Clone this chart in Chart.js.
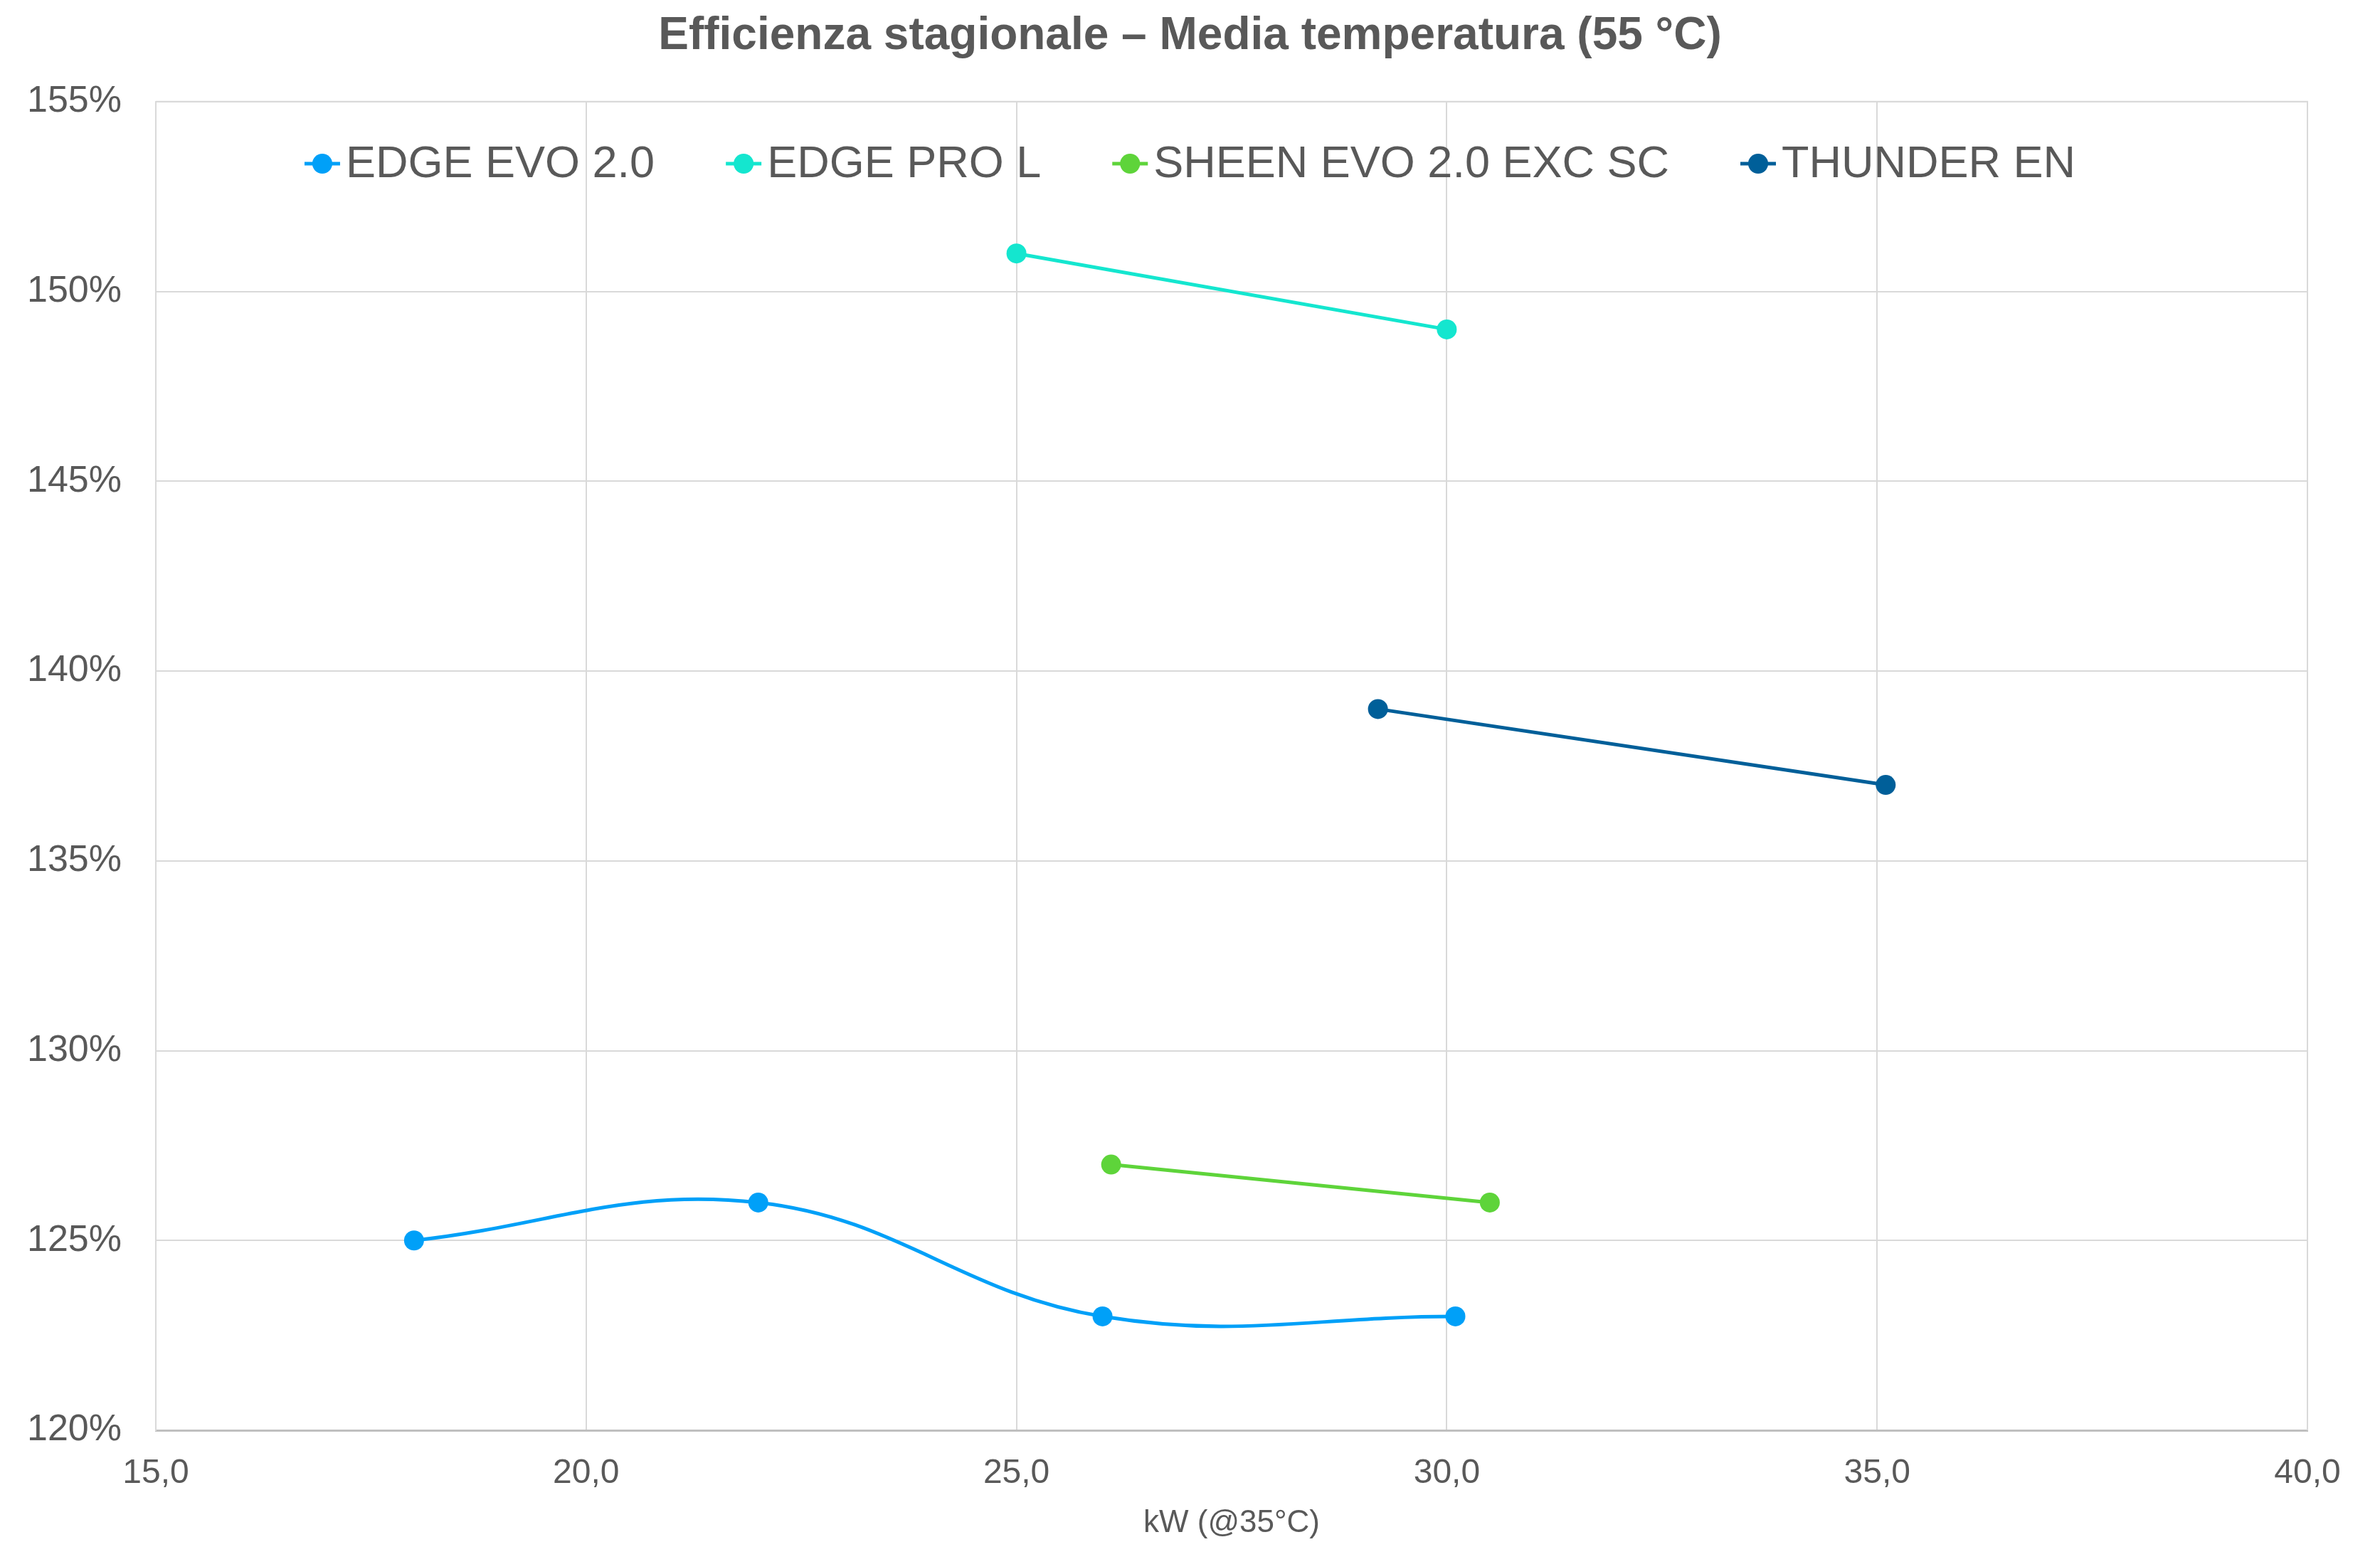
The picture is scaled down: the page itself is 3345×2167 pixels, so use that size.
<!DOCTYPE html>
<html>
<head>
<meta charset="utf-8">
<script src="https://cdn.jsdelivr.net/npm/chart.js@4.4.1/dist/chart.umd.min.js"></script>
<style>
  html, body { margin: 0; padding: 0; background: #fff; }
  #wrap { width: 3345px; height: 2167px; }
</style>
</head>
<body>
<div id="wrap"><canvas id="chart"></canvas></div>
<script>
// Efficienza stagionale – Media temperatura (55 °C)

const TITLE = 'Efficienza stagionale – Media temperatura (55 °C)';
const X_TITLE = 'kW (@35°C)';
const TEXT = '#595959';
const FONT = '"Liberation Sans", Arial, sans-serif';

// kW values / seasonal efficiency (%) per series
const edgeEvoX = [18.0, 22.0, 26.0, 30.1];
const edgeEvoY = [125, 126, 123, 123];
const edgeProX = [25.0, 30.0];
const edgeProY = [151, 149];
const sheenX = [26.1, 30.5];
const sheenY = [127, 126];
const thunderX = [29.2, 35.1];
const thunderY = [139, 137];

const seriesNames = ['EDGE EVO 2.0', 'EDGE PRO L', 'SHEEN EVO 2.0 EXC SC', 'THUNDER EN'];
const seriesColors = ['#00A0F8', '#14E6CF', '#5ED43A', '#005F99'];

const X_MIN = 15, X_MAX = 40, X_STEP = 5;
const Y_MIN = 120, Y_MAX = 155, Y_STEP = 5;

function pts(xs, ys) {
  return xs.map((x, i) => ({ x, y: ys[i] }));
}

function makeSet(i, xs, ys, tension) {
  return {
    label: seriesNames[i],
    data: pts(xs, ys),
    showLine: true,
    borderColor: seriesColors[i],
    backgroundColor: seriesColors[i],
    borderWidth: 5,
    pointRadius: 14,
    pointHoverRadius: 14,
    pointBorderWidth: 0,
    tension: tension || 0
  };
}

// legend drawn inside the plot area, centred on the canvas
const innerLegend = {
  id: 'innerLegend',
  afterDraw(chart) {
    const ctx = chart.ctx;
    const lineLen = 50, textGap = 8, itemGap = 100;
    const y = 230;
    ctx.save();
    ctx.font = '63px ' + FONT;
    const items = chart.data.datasets.map(ds => ({
      label: ds.label, color: ds.borderColor, w: ctx.measureText(ds.label).width
    }));
    let total = 0;
    items.forEach((it, i) => { total += lineLen + textGap + it.w + (i < items.length - 1 ? itemGap : 0); });
    let x = chart.width / 2 - total / 2;
    items.forEach(it => {
      ctx.strokeStyle = it.color;
      ctx.lineWidth = 5;
      ctx.beginPath();
      ctx.moveTo(x, y);
      ctx.lineTo(x + lineLen, y);
      ctx.stroke();
      ctx.fillStyle = it.color;
      ctx.beginPath();
      ctx.arc(x + lineLen / 2, y, 14, 0, Math.PI * 2);
      ctx.fill();
      ctx.fillStyle = TEXT;
      ctx.textBaseline = 'middle';
      ctx.textAlign = 'left';
      ctx.fillText(it.label, x + lineLen + textGap, y + 2);
      x += lineLen + textGap + it.w + itemGap;
    });
    ctx.restore();
  }
};

const ctx = document.getElementById('chart').getContext('2d');
new Chart(ctx, {
  type: 'scatter',
  data: {
    datasets: [
      makeSet(0, edgeEvoX, edgeEvoY, 0.4),
      makeSet(1, edgeProX, edgeProY),
      makeSet(2, sheenX, sheenY),
      makeSet(3, thunderX, thunderY)
    ]
  },
  options: {
    responsive: true,
    maintainAspectRatio: false,
    animation: false,
    layout: { padding: 0 },
    plugins: {
      legend: { display: false },
      tooltip: { enabled: false },
      title: {
        display: true,
        text: TITLE,
        color: TEXT,
        font: { family: FONT, size: 64, weight: 'bold', lineHeight: 1.2 },
        padding: { top: 13, bottom: 53 }
      }
    },
    scales: {
      x: {
        type: 'linear',
        min: X_MIN, max: X_MAX,
        grid: { color: '#d9d9d9', lineWidth: 2, drawTicks: false },
        border: { color: '#bfbfbf', width: 3 },
        ticks: {
          stepSize: X_STEP,
          color: TEXT,
          padding: 32,
          font: { family: FONT, size: 48 },
          callback: v => v.toFixed(1).replace('.', ',')
        },
        title: {
          display: true,
          text: X_TITLE,
          color: TEXT,
          padding: { top: 12, bottom: 0 },
          font: { family: FONT, size: 44 }
        },
        afterFit(scale) { scale.height = 157; }
      },
      y: {
        type: 'linear',
        min: Y_MIN, max: Y_MAX,
        grid: { color: '#d9d9d9', lineWidth: 2, drawTicks: false },
        border: { color: '#d9d9d9', width: 2 },
        ticks: {
          stepSize: Y_STEP,
          color: TEXT,
          padding: 48,
          font: { family: FONT, size: 52 },
          callback: v => v + '%'
        },
        afterFit(scale) { scale.width = 219; }
      },
      // empty right-hand margin so the title stays centred on the page
      yRight: {
        type: 'linear',
        position: 'right',
        min: Y_MIN, max: Y_MAX,
        grid: { drawOnChartArea: false, drawTicks: false },
        border: { display: false },
        ticks: { display: false },
        afterFit(scale) { scale.width = 102; }
      }
    }
  },
  plugins: [innerLegend, {
    // right and top frame of the plot area
    id: 'frame',
    beforeDatasetsDraw(chart) {
      const a = chart.chartArea, c = chart.ctx;
      c.save();
      c.strokeStyle = '#d9d9d9';
      c.lineWidth = 2;
      c.beginPath();
      c.moveTo(a.left, a.top); c.lineTo(a.right, a.top); c.lineTo(a.right, a.bottom);
      c.stroke();
      c.restore();
    }
  }]
});
</script>
</body>
</html>
